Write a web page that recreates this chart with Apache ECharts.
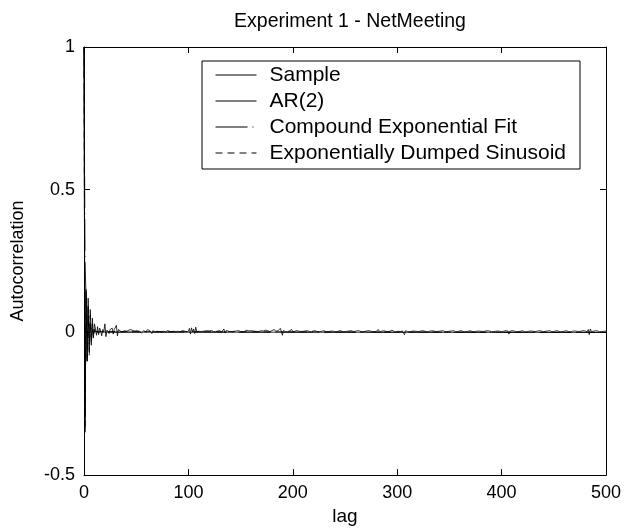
<!DOCTYPE html>
<html><head><meta charset="utf-8">
<script src="https://cdn.jsdelivr.net/npm/echarts@6/dist/echarts.min.js"></script>
<style>html,body{margin:0;padding:0;background:#fff}#c{width:624px;height:531px}</style>
</head><body><div id="c"></div>
<script>
var titleText = 'Experiment 1 - NetMeeting';
var xTicks = [0, 100, 200, 300, 400, 500];
var yTicks = [-0.5, 0, 0.5, 1];
var seriesNames = ['Sample', 'AR(2)', 'Compound Exponential Fit', 'Exponentially Dumped Sinusoid'];

// sample autocorrelation, lag 0..500
var sample = [1,-.35,.15,-.1,.12,-.07,.08,-.045,.05,-.02,.03,
.012,-.01,.02,-.008,.015,.004,-.012,.01,.002,.03,-.015,.008,.012,-.004,.01,.006,.015,-.006,.01,.004,
.025,-.012,.01,.014,.004,.01,.002,.008,.006,.012,.004,.003,.008,.005,.01,.004,.006,.002,.005,.004,
.006,.003,.004,.008,-.002,.004,.006,.012,.002,.004,.01,.003,.006,.008,-.004,.006,.005,.002,.007,.004,
.009,.003,.005,.002,.006,.004,.01,.002,.005,.006,.003,.004,.008,.002,.006,.004,.005,.003,.006,.004,
.007,.002,.004,.006,.003,.005,.004,.002,.006,.004,.014,-.006,.016,.002,.012,-.004,.018,.003,.006,.004,
.005,.003,.006,.004,.002,.005,.003,.006,.004,.005,.002,.007,.004,.003,.006,.002,.004,.005,.003,.006,
.004,.002,.008,.012,-.002,.006,.003,.005,.004,.002,.006,.003,.007,.004,.002,.005,.003,.006,.004,.003,
.005,.002,.006,.004,.003,.008,.002,.005,.004,.006,.003,.005,.002,.004,.006,.003,.005,.004,.002,.006,
.003,.005,.004,.008,.002,.006,.004,.003,.005,.006,.008,.01,.012,.004,.008,.006,.002,.014,.004,-.01,
.006,.004,.003,.005,.002,.004,.006,.003,.01,.002,.005,.004,.003,.006,.002,.004,.005,.003,.006,.004,
.002,.005,.003,.006,.004,.003,.005,.002,.004,.006,.003,.005,.004,.002,.006,.003,.005,.004,.003,.006,
.004,.002,.005,.003,.006,.004,.002,.005,.004,.003,.006,.002,.004,.005,.003,.006,.004,.002,.005,.003,
.006,.004,.003,.005,.002,.006,.004,.003,.005,.004,.002,.006,.003,.005,.004,.002,.006,.003,.005,.004,
.003,.006,.002,.005,.004,.003,.008,.002,.006,.004,.003,.01,.002,.005,.004,.003,.006,.002,.004,.005,
.003,.006,.004,.002,.008,.004,.003,.01,.002,.006,.004,.008,.003,.01,.005,.012,-.008,.006,.004,.003,
.005,.002,.006,.004,.003,.005,.002,.004,.006,.003,.005,.004,.002,.006,.003,.005,.004,.002,.006,.003,
.004,.005,.003,.006,.002,.004,.005,.003,.006,.004,.002,.005,.003,.006,.004,.002,.005,.003,.006,.004,
.003,.005,.002,.006,.004,.003,.005,.002,.004,.006,.003,.005,.004,.002,.006,.003,.005,.004,.002,.006,
.004,.003,.005,.002,.006,.004,.003,.005,.002,.004,.006,.003,.005,.004,.002,.006,.003,.005,.004,.003,
.005,.002,.006,.004,.003,.005,.002,.004,.006,.003,.005,.004,.002,.006,.003,.005,-.006,.004,.002,.006,
.003,.005,.004,.002,.006,.003,.005,.004,.002,.006,.004,.003,.005,.002,.006,.004,.003,.005,.002,.004,
.006,.003,.005,.004,.002,.006,.003,.005,.004,.002,.006,.004,.003,.005,.002,.006,.004,.003,.005,.002,
.004,.006,.003,.005,.004,.002,.006,.003,.005,.004,.002,.006,.004,.003,.005,.002,.006,.004,.003,.005,
.002,.004,.006,.003,.005,.004,.002,.006,.003,.005,.004,.002,.01,-.008,.012,.003,.005,.004,.002,.006,
.003,.005,.004,.002,.006,.003,.005,.004,.002,.004];

// fitted models: values at lags 0.., then the tail at lag 500
var arLags   = [0, 1, 2, 3, 4, 5, 6, 7, 8, 9, 10, 11, 12, 13, 500];
var arVals   = [1, -.3, .14, -.09, .06, -.04, .025, -.016, .01, -.006, .004, -.002, .001, 0, 0];
var ceLags   = [0, 1, 2, 3, 4, 5, 6, 7, 8, 9, 10, 12, 15, 20, 500];
var ceVals   = [1, .25, .12, .07, .045, .03, .02, .014, .01, .007, .005, .003, .002, .001, 0];
var dsLags   = [0, 1, 2, 3, 4, 5, 6, 7, 8, 9, 10, 11, 12, 13, 500];
var dsVals   = [1, -.34, .13, -.11, .1, -.08, .06, -.04, .03, -.02, .012, -.006, .003, 0, 0];

function pairs(xs, ys){ return xs.map(function(x,i){ return [x, ys[i]]; }); }
var samplePairs = sample.map(function(v,i){ return [i, v]; });

var FONT = 'Liberation Sans, Arial, sans-serif';
var chart = echarts.init(document.getElementById('c'), null, {renderer:'canvas'});
function axisBase(){
  return {
    axisLine:{show:true, onZero:false, lineStyle:{color:'#000', width:1}},
    axisTick:{show:true, inside:true, length:6, lineStyle:{color:'#000', width:1}},
    splitLine:{show:false}
  };
}
function lineSeries(name, data, w, type){
  return {name:name, type:'line', data:data, showSymbol:false, symbol:'none', animation:false,
    lineStyle:{color:'#000', width:w, type:type}, itemStyle:{color:'#000'}, z: 3};
}
chart.setOption({
  animation:false,
  title:{text:titleText, left:345, top:7, textAlign:'center',
    textStyle:{fontFamily:FONT, fontSize:19.5, fontWeight:'normal', color:'#000'}},
  grid:{left:84, right:18, top:47, bottom:48},
  legend:{orient:'vertical', left:202, top:61, padding:[3,14,5,13], itemGap:4,
    itemWidth:41, itemHeight:14, borderColor:'#000', borderWidth:1, backgroundColor:'#fff',
    selectedMode:false, data:seriesNames,
    itemStyle:{opacity:0, borderWidth:0},
    lineStyle:{width:1},
    textStyle:{fontFamily:FONT, fontSize:21, color:'#000', lineHeight:22, padding:[0,0,0,8]}},
  xAxis:[
    Object.assign(axisBase(), {type:'value', min:0, max:500, interval:100, position:'bottom',
      name:'lag', nameLocation:'middle', nameGap:29,
      nameTextStyle:{fontFamily:FONT, fontSize:19, color:'#000'},
      axisLabel:{fontFamily:FONT, fontSize:18, color:'#000', margin:9}}),
    Object.assign(axisBase(), {type:'value', min:0, max:500, interval:100, position:'top',
      axisLabel:{show:false}})
  ],
  yAxis:[
    Object.assign(axisBase(), {type:'value', min:-0.5, max:1, interval:0.5, position:'left',
      name:'Autocorrelation', nameLocation:'middle', nameGap:57, nameRotate:90,
      nameTextStyle:{fontFamily:FONT, fontSize:18, color:'#000'},
      axisLabel:{fontFamily:FONT, fontSize:18, color:'#000', margin:9}}),
    Object.assign(axisBase(), {type:'value', min:-0.5, max:1, interval:0.5, position:'right',
      axisLabel:{show:false}})
  ],
  series:[
    lineSeries(seriesNames[0], samplePairs, 0.8, 'solid'),
    lineSeries(seriesNames[1], pairs(arLags, arVals), 0.8, 'solid'),
    lineSeries(seriesNames[2], pairs(ceLags, ceVals), 0.8, [32,5,1,5]),
    lineSeries(seriesNames[3], pairs(dsLags, dsVals), 0.8, [7,5])
  ]
});
</script></body></html>
